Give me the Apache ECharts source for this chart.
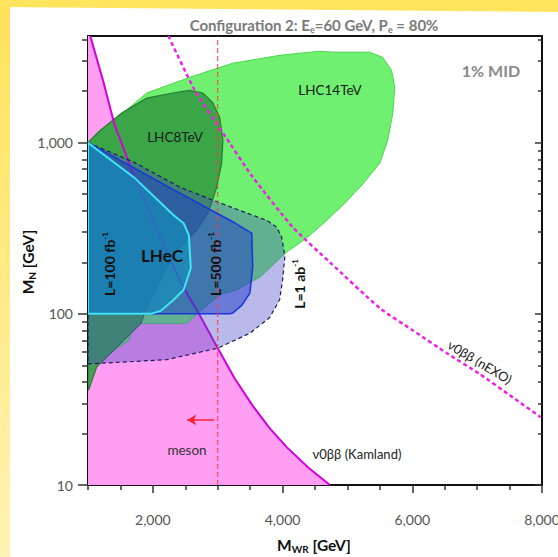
<!DOCTYPE html>
<html><head><meta charset="utf-8">
<script src="https://cdn.jsdelivr.net/npm/echarts@6/dist/echarts.min.js"></script>
<style>html,body{margin:0;padding:0;background:#fff}#c{width:558px;height:557px}</style>
</head><body><div id="c"></div>
<script>
// ---- axes ----
const xLabelValues = [2000, 4000, 6000, 8000];
const xMinorTicks = [1000, 1500, 2500, 3000, 3500, 4500, 5000, 5500, 6500, 7000, 7500];
const yLabelValues = [10, 100, 1000];
const yMinorTicks = [20, 30, 40, 50, 60, 70, 80, 90, 200, 300, 400, 500, 600, 700, 800, 900, 2000, 3000, 4000];

// ---- curves (M_WR [GeV], M_N [GeV]) ----
const kamlandCurve = [[1035,4200],[1230,2320],[1410,1270],[1570,880],[1700,645],[1970,377],[2210,229],[2380,168],[2540,129],[2710,100],[2990,64],[3260,42],[3540,29],[3800,21.5],[4060,16.7],[4390,12.7],[4730,10]];
const nexoCurve = [[2240,4200],[2645,2030],[3080,1140],[3540,630],[4160,320],[4730,200],[5500,108],[6010,80],[6530,59],[7040,44.5],[7550,32.5],[7980,24.9]];
const mesonLimit = [[3000,10],[3000,4200]];

// ---- exclusion / sensitivity regions ----
const lhc14 = [[1000,1000],[1180,1180],[1410,1350],[1905,1950],[2570,2410],[3230,2910],[3960,3240],[4570,3420],[4770,3380],[5340,3380],[5540,3160],[5680,2650],[5730,2110],[5700,1490],[5620,1030],[5500,760],[5220,564],[4960,443],[4650,343],[4370,277],[4060,229],[3650,164],[3290,138],[3030,129],[2680,100],[2570,91],[2520,88],[1705,88],[1630,70],[1475,64],[1240,56],[1135,56],[1040,52],[1000,50]];
const lhc8 = [[1000,1000],[1180,1170],[1520,1490],[1905,1820],[2370,1970],[2570,2020],[2770,1950],[2920,1720],[3030,1410],[3080,1030],[3060,760],[2985,550],[2905,443],[2845,388],[2675,308],[2415,245],[2215,188],[2060,143],[1905,109],[1815,88],[1135,49],[1010,36],[1000,36]];
const lhec1ab = [[1000,1000],[1705,770],[2415,550],[2920,462],[3450,388],[3755,352],[3910,321],[3985,281],[4020,236],[4035,215],[4000,157],[3955,121],[3800,95],[3495,77],[3000,63],[2215,54],[1645,52.5],[1000,51]];
const lhec500 = [[1000,1000],[2415,507],[3245,343],[3445,308],[3525,296],[3540,188],[3495,132],[3370,112],[3230,101],[3185,100],[1000,100]];
const lhec100 = [[1000,1000],[1705,629],[2320,377],[2475,338],[2555,288],[2585,185],[2475,138],[2320,121],[2120,104],[1965,100],[1000,100]];
const mesonArrow = [[2950,24],[2530,24]];

const kamlandRegion = [[1000,10],[1000,4200]].concat(kamlandCurve);

const FONT = 'Lato';
const fmt = v => Number(v).toLocaleString('en-US');

function poly(name, pts, style, z) {
  return {
    type: 'custom', name, data: pts, z, silent: true, clip: true,
    renderItem: (params, api) => {
      if (params.dataIndex !== 0) return null;
      return { type: 'polygon', shape: { points: pts.map(p => api.coord(p)) }, style };
    }
  };
}

const chart = echarts.init(document.getElementById('c'), null, { renderer: 'svg' });

const xBase = { type: 'value', min: 1000, max: 8000, splitLine: { show: false } };
const yBase = { type: 'log', logBase: 10, min: 10, max: 4200, splitLine: { show: false } };
const blackLine = { show: true, onZero: false, lineStyle: { color: '#111', width: 2 } };

function txt(x, y, text, style, rot) {
  return { type: 'text', x, y, rotation: rot || 0, z: 100, silent: true,
    style: Object.assign({ text, align: 'center', verticalAlign: 'middle', fontFamily: FONT, fontSize: 13, fill: '#222' }, style) };
}
const supRich = (size) => ({
  b: { fontFamily: FONT, fontSize: size, fontWeight: 'bold', fill: '#111', lineHeight: size + 3 },
  p: { fontFamily: FONT, fontSize: 8, fontWeight: 'bold', fill: '#111', verticalAlign: 'top', lineHeight: 9 }
});
const nameRich = {
  a: { fontFamily: FONT, fontSize: 15.5, fontWeight: 'bold', fill: '#111', lineHeight: 18 },
  s: { fontFamily: FONT, fontSize: 10, fontWeight: 'bold', fill: '#111', verticalAlign: 'bottom', lineHeight: 14 }
};

chart.setOption({
  animation: false,
  backgroundColor: '#fff',
  textStyle: { fontFamily: FONT },
  grid: { left: 88, right: 16, top: 36, bottom: 72, containLabel: false, outerBoundsMode: 'none' },
  xAxis: [
    Object.assign({}, xBase, { position: 'bottom', axisLine: blackLine,
      axisTick: { show: true, customValues: xLabelValues, length: 8, lineStyle: { color: '#333', width: 1.5 } },
      axisLabel: { customValues: xLabelValues, formatter: fmt, color: '#555', fontSize: 14, margin: 27, fontFamily: FONT } }),
    Object.assign({}, xBase, { position: 'bottom', axisLine: { show: false },
      axisTick: { show: true, customValues: xMinorTicks, length: 5, lineStyle: { color: '#333', width: 1.5 } },
      axisLabel: { show: false } }),
    Object.assign({}, xBase, { position: 'top', axisLine: blackLine, axisTick: { show: false }, axisLabel: { show: false } })
  ],
  yAxis: [
    Object.assign({}, yBase, { position: 'left', axisLine: blackLine,
      axisTick: { show: true, customValues: yLabelValues, length: 10, lineStyle: { color: '#333', width: 1.5 } },
      axisLabel: { customValues: yLabelValues, formatter: fmt, color: '#555', fontSize: 14, margin: 15, fontFamily: FONT } }),
    Object.assign({}, yBase, { position: 'left', axisLine: { show: false },
      axisTick: { show: true, customValues: yMinorTicks, length: 6, lineStyle: { color: '#333', width: 1.5 } },
      axisLabel: { show: false } }),
    Object.assign({}, yBase, { position: 'right', axisLine: blackLine,
      axisTick: { show: true, inside: true, customValues: yLabelValues, length: 7, lineStyle: { color: '#333', width: 1.5 } },
      axisLabel: { show: false } }),
    Object.assign({}, yBase, { position: 'right', axisLine: { show: false },
      axisTick: { show: true, inside: true, customValues: yMinorTicks, length: 4, lineStyle: { color: '#333', width: 1.5 } },
      axisLabel: { show: false } })
  ],
  series: [
    poly('ν0ββ (Kamland) region', kamlandRegion, { fill: 'rgb(255,158,242)' }, 1),
    poly('LHC14TeV', lhc14, { fill: 'rgb(112,240,112)', stroke: '#4ad64a', lineWidth: 1 }, 2),
    poly('LHC8TeV', lhc8, { fill: 'rgba(54,160,68,0.92)', stroke: '#2a7a33', lineWidth: 1.2 }, 3),
    { type: 'line', name: 'ν0ββ (Kamland)', data: kamlandCurve, z: 4, showSymbol: false, silent: true,
      lineStyle: { color: '#d400d8', width: 2 } },
    poly('L=1 ab-1', lhec1ab, { fill: 'rgba(70,70,200,0.38)', stroke: '#1e1e5c', lineWidth: 1.2, lineDash: [4, 3] }, 5),
    poly('L=500 fb-1', lhec500, { fill: 'rgba(30,60,200,0.5)', stroke: '#1a35d8', lineWidth: 1.5 }, 6),
    poly('L=100 fb-1', lhec100, { fill: 'rgba(15,150,190,0.58)', stroke: '#40e6f6', lineWidth: 2 }, 7),
    { type: 'line', name: 'ν0ββ (nEXO)', data: nexoCurve, z: 8, showSymbol: false, silent: true, smooth: 0.2,
      lineStyle: { color: '#ee22e6', width: 2.5, type: [4, 3] } },
    { type: 'line', name: 'meson', data: mesonLimit, z: 9, showSymbol: false, silent: true,
      lineStyle: { color: '#ff3848', width: 1, type: [5, 3] },
      markLine: { silent: true, symbol: ['none', 'arrow'], symbolSize: [8, 9], label: { show: false },
        lineStyle: { color: '#ff2030', width: 1.5, type: 'solid' },
        data: [[{ coord: mesonArrow[0] }, { coord: mesonArrow[1] }]] } }
  ],
  graphic: [
    { type: 'rect', shape: { x: 0, y: 0, width: 10, height: 557 }, silent: true,
      style: { fill: new echarts.graphic.LinearGradient(0, 0, 0, 1, [{ offset: 0, color: '#ffe25a' }, { offset: 1, color: '#fff3b4' }]) } },
    { type: 'polygon', shape: { points: [[0, 0], [558, 0], [558, 12], [0, 7]] }, silent: true, style: { fill: '#ffe45e' } },
    txt(314, 25, '{a|Configuration 2: E}{s|e}{a|=60 GeV, P}{s|e}{a| = 80%}', {
      rich: { a: { fontFamily: FONT, fontSize: 15, fontWeight: 'bold', fill: '#7a7a7a', lineHeight: 18 },
              s: { fontFamily: FONT, fontSize: 9, fontWeight: 'bold', fill: '#7a7a7a', verticalAlign: 'bottom', lineHeight: 12 } } }),
    txt(28, 262, '{a|M}{s|N}{a| [GeV]}', { rich: nameRich }, Math.PI / 2),
    txt(314, 545, '{a|M}{s|WR}{a| [GeV]}', { rich: nameRich }),
    txt(491, 70, '1% MID', { fontSize: 16, fontWeight: 'bold', fill: '#8a8a8a' }),
    txt(330, 90, 'LHC14TeV', { fontSize: 13.5, fill: '#1a1a1a' }),
    txt(175, 137, 'LHC8TeV', { fontSize: 13.5, fill: '#1a1a1a' }),
    txt(162, 255, 'LHeC', { fontSize: 17, fontWeight: 'bold', fill: '#111' }),
    txt(109, 264, '{b|L=100 fb}{p|-1}', { rich: supRich(14) }, Math.PI / 2),
    txt(215, 264, '{b|L=500 fb}{p|-1}', { rich: supRich(14) }, Math.PI / 2),
    txt(299, 284, '{b|L=1 ab}{p|-1}', { rich: supRich(14) }, Math.PI / 2),
    txt(187, 450, 'meson', { fontSize: 13.5, fill: '#333' }),
    txt(357, 454, 'ν0ββ (Kamland)', { fontSize: 13, fill: '#222' }),
    txt(480, 362, 'ν0ββ (nEXO)', { fontSize: 13, fill: '#222' }, -31 * Math.PI / 180)
  ]
});
</script>
</body></html>
